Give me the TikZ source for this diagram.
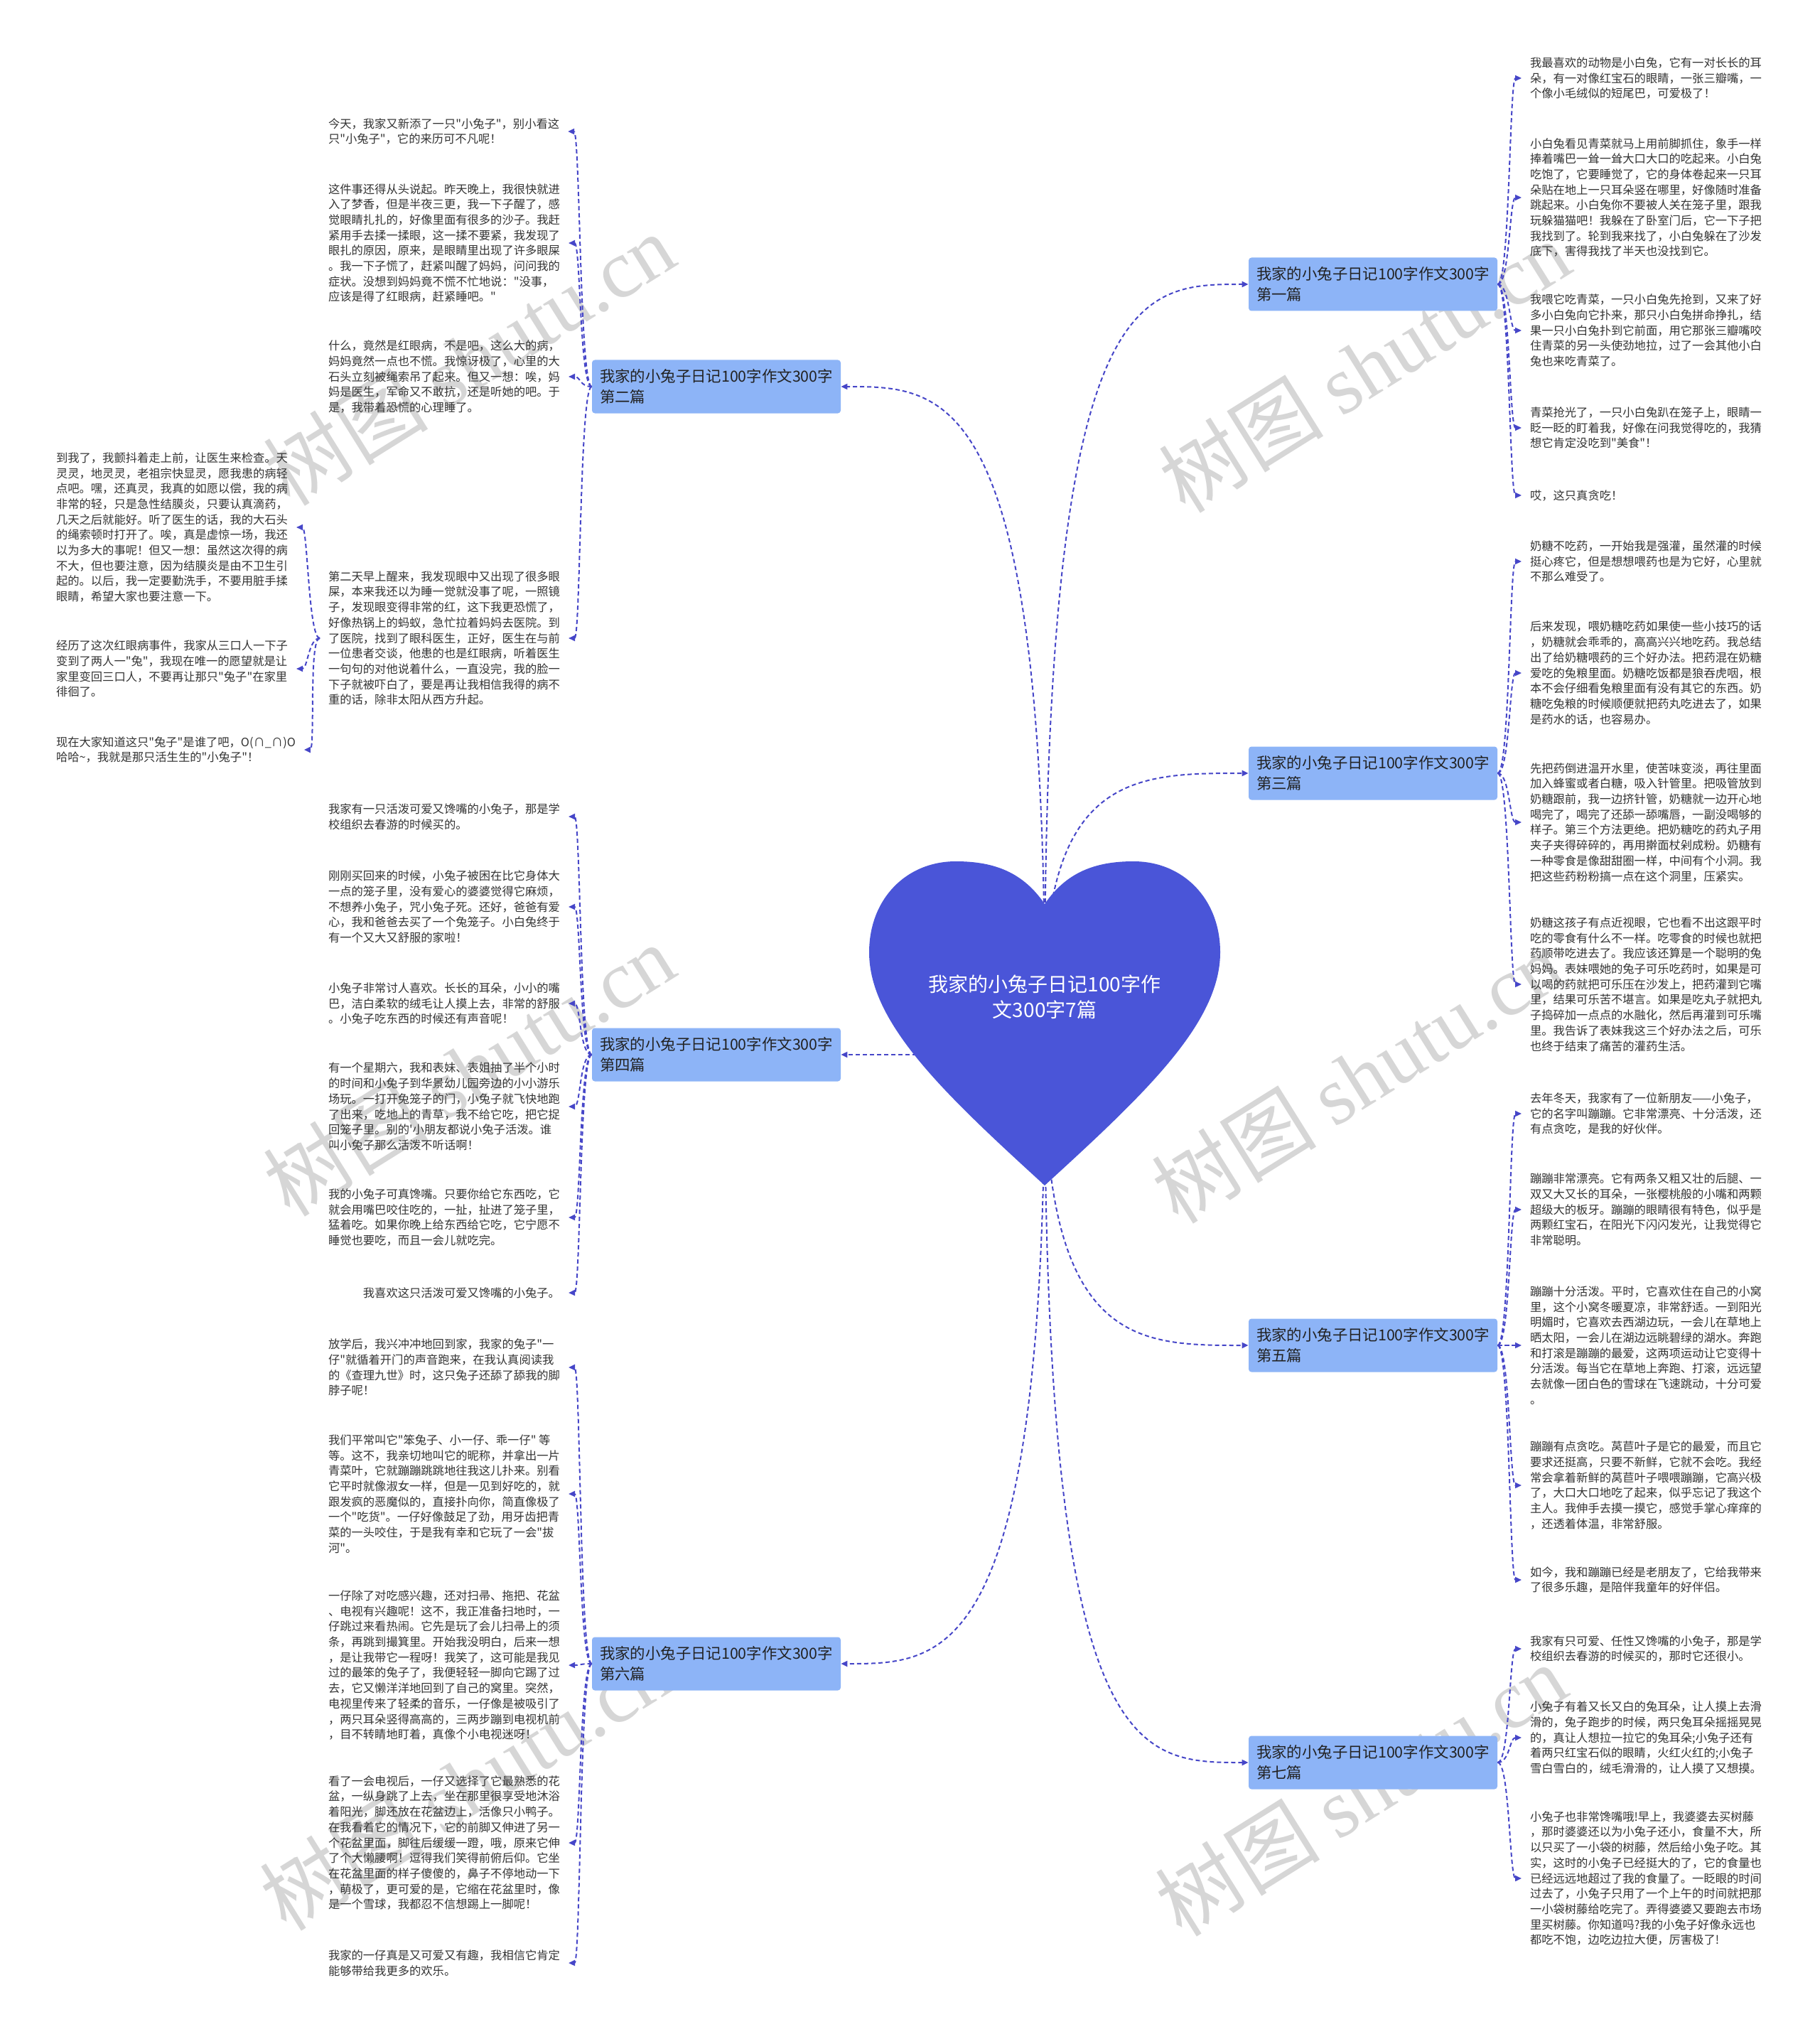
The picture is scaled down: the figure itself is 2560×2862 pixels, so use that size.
\documentclass[tikz,border=0pt]{standalone}
\usepackage{fontspec}
\newfontfamily\cjk{Noto Sans CJK SC}
\newfontfamily\wmserif{Liberation Serif}
\usetikzlibrary{arrows.meta}
\definecolor{heartc}{HTML}{4A55D8}
\definecolor{boxc}{HTML}{8DB4F7}
\definecolor{connc}{HTML}{4646C8}
\definecolor{txtc}{HTML}{333333}
\definecolor{boxtxt}{HTML}{222222}
\definecolor{wmc}{HTML}{D6D6D6}
\tikzset{
  txt/.style={inner sep=0pt, outer xsep=6pt, align=left, text=txtc, font=\cjk\fontsize{8.15pt}{10.85pt}\selectfont},
  branch/.style={rectangle, rounded corners=2pt, fill=boxc, minimum width=175pt, minimum height=37.5pt, text width=164pt, inner xsep=5.5pt, inner ysep=0pt, align=left, text=boxtxt, font=\cjk\fontsize{10.7pt}{14.6pt}\selectfont},
  conn/.style={draw=connc, line width=1pt, dash pattern=on 3pt off 2pt, -{Triangle[length=4.5pt,width=4pt]}},
  wm/.style={text=wmc, rotate=32, inner sep=0pt, font=\cjk\fontsize{58pt}{60pt}\selectfont}
}
\begin{document}
\begin{tikzpicture}[x=0.5pt,y=-0.5pt]
\useasboundingbox (0,0) rectangle (2560,2862);
\fill[white] (0,0) rectangle (2560,2862);

% watermarks
\node[wm] (w1) at (660,505) {树图 {\wmserif shutu.cn}};
\node[wm] (w2) at (1920,515) {树图 {\wmserif shutu.cn}};
\node[wm] (w3) at (660,1505) {树图 {\wmserif shutu.cn}};
\node[wm] (w4) at (1910,1515) {树图 {\wmserif shutu.cn}};
\node[wm] (w5) at (655,2510) {树图 {\wmserif shutu.cn}};
\node[wm] (w6) at (1915,2518) {树图 {\wmserif shutu.cn}};

% branch boxes
\node[branch] (b1) at (1932,400) {我家的小兔子日记100字作文300字\\第一篇};
\node[branch] (b3) at (1932,1088) {我家的小兔子日记100字作文300字\\第三篇};
\node[branch] (b5) at (1932,1893) {我家的小兔子日记100字作文300字\\第五篇};
\node[branch] (b7) at (1932,2480) {我家的小兔子日记100字作文300字\\第七篇};
\node[branch] (b2) at (1008,544) {我家的小兔子日记100字作文300字\\第二篇};
\node[branch] (b4) at (1008,1484) {我家的小兔子日记100字作文300字\\第四篇};
\node[branch] (b6) at (1008,2341) {我家的小兔子日记100字作文300字\\第六篇};

% centre connectors (hidden under heart)
\coordinate (hu) at (1470,1400);
\coordinate (hd) at (1470,1500);
\coordinate (hm) at (1470,1484);
\draw[conn] (hu) .. controls (1470,400) and (1600,400) .. (b1.west);
\draw[conn] (hu) .. controls (1470,1088) and (1600,1088) .. (b3.west);
\draw[conn] (hd) .. controls (1470,1893) and (1600,1893) .. (b5.west);
\draw[conn] (hd) .. controls (1470,2480) and (1600,2480) .. (b7.west);
\draw[conn] (hu) .. controls (1470,544) and (1330,544) .. (b2.east);
\draw[conn] (hm) -- (b4.east);
\draw[conn] (hd) .. controls (1470,2341) and (1330,2341) .. (b6.east);

% heart
\fill[heartc] (1470,1272) .. controls (1440,1228) and (1400,1212) .. (1345,1212)
  .. controls (1275,1212) and (1223,1265) .. (1223,1340)
  .. controls (1223,1440) and (1330,1540) .. (1470,1668)
  .. controls (1610,1540) and (1717,1440) .. (1717,1340)
  .. controls (1717,1265) and (1665,1212) .. (1595,1212)
  .. controls (1540,1212) and (1500,1228) .. (1470,1272) -- cycle;
\node[text=white, align=center, inner sep=0pt, font=\cjk\fontsize{14pt}{18pt}\selectfont] (hc) at (1470,1403) {我家的小兔子日记100字作\\文300字7篇};

% ---------- right column ----------
\node[txt, anchor=west] (r1a) at (2141,110) {我最喜欢的动物是小白兔，它有一对长长的耳\\朵，有一对像红宝石的眼睛，一张三瓣嘴，一\\个像小毛绒似的短尾巴，可爱极了！};
\node[txt, anchor=west] (r1b) at (2141,278) {小白兔看见青菜就马上用前脚抓住，象手一样\\捧着嘴巴一耸一耸大口大口的吃起来。小白兔\\吃饱了，它要睡觉了，它的身体卷起来一只耳\\朵贴在地上一只耳朵竖在哪里，好像随时准备\\跳起来。小白兔你不要被人关在笼子里，跟我\\玩躲猫猫吧！我躲在了卧室门后，它一下子把\\我找到了。轮到我来找了，小白兔躲在了沙发\\底下，害得我找了半天也没找到它。};
\node[txt, anchor=west] (r1c) at (2141,465) {我喂它吃青菜，一只小白兔先抢到，又来了好\\多小白兔向它扑来，那只小白兔拼命挣扎，结\\果一只小白兔扑到它前面，用它那张三瓣嘴咬\\住青菜的另一头使劲地拉，过了一会其他小白\\兔也来吃青菜了。};
\node[txt, anchor=west] (r1d) at (2141,602) {青菜抢光了，一只小白兔趴在笼子上，眼睛一\\眨一眨的盯着我，好像在问我觉得吃的，我猜\\想它肯定没吃到"美食"！};
\node[txt, anchor=west] (r1e) at (2141,697) {哎，这只真贪吃！};

\node[txt, anchor=west] (r3a) at (2141,790) {奶糖不吃药，一开始我是强灌，虽然灌的时候\\挺心疼它，但是想想喂药也是为它好，心里就\\不那么难受了。};
\node[txt, anchor=west] (r3b) at (2141,947) {后来发现，喂奶糖吃药如果使一些小技巧的话\\，奶糖就会乖乖的，高高兴兴地吃药。我总结\\出了给奶糖喂药的三个好办法。把药混在奶糖\\爱吃的兔粮里面。奶糖吃饭都是狼吞虎咽，根\\本不会仔细看兔粮里面有没有其它的东西。奶\\糖吃兔粮的时候顺便就把药丸吃进去了，如果\\是药水的话，也容易办。};
\node[txt, anchor=west] (r3c) at (2141,1157) {先把药倒进温开水里，使苦味变淡，再往里面\\加入蜂蜜或者白糖，吸入针管里。把吸管放到\\奶糖跟前，我一边挤针管，奶糖就一边开心地\\喝完了，喝完了还舔一舔嘴唇，一副没喝够的\\样子。第三个方法更绝。把奶糖吃的药丸子用\\夹子夹得碎碎的，再用擀面杖剁成粉。奶糖有\\一种零食是像甜甜圈一样，中间有个小洞。我\\把这些药粉粉搞一点在这个洞里，压紧实。};
\node[txt, anchor=west] (r3d) at (2141,1385) {奶糖这孩子有点近视眼，它也看不出这跟平时\\吃的零食有什么不一样。吃零食的时候也就把\\药顺带吃进去了。我应该还算是一个聪明的兔\\妈妈。表妹喂她的兔子可乐吃药时，如果是可\\以喝的药就把可乐压在沙发上，把药灌到它嘴\\里，结果可乐苦不堪言。如果是吃丸子就把丸\\子捣碎加一点点的水融化，然后再灌到可乐嘴\\里。我告诉了表妹我这三个好办法之后，可乐\\也终于结束了痛苦的灌药生活。};

\node[txt, anchor=west] (r5a) at (2141,1567) {去年冬天，我家有了一位新朋友——小兔子，\\它的名字叫蹦蹦。它非常漂亮、十分活泼，还\\有点贪吃，是我的好伙伴。};
\node[txt, anchor=west] (r5b) at (2141,1702) {蹦蹦非常漂亮。它有两条又粗又壮的后腿、一\\双又大又长的耳朵，一张樱桃般的小嘴和两颗\\超级大的板牙。蹦蹦的眼睛很有特色，似乎是\\两颗红宝石，在阳光下闪闪发光，让我觉得它\\非常聪明。};
\node[txt, anchor=west] (r5c) at (2141,1893) {蹦蹦十分活泼。平时，它喜欢住在自己的小窝\\里，这个小窝冬暖夏凉，非常舒适。一到阳光\\明媚时，它喜欢去西湖边玩，一会儿在草地上\\晒太阳，一会儿在湖边远眺碧绿的湖水。奔跑\\和打滚是蹦蹦的最爱，这两项运动让它变得十\\分活泼。每当它在草地上奔跑、打滚，远远望\\去就像一团白色的雪球在飞速跳动，十分可爱\\。};
\node[txt, anchor=west] (r5d) at (2141,2090) {蹦蹦有点贪吃。莴苣叶子是它的最爱，而且它\\要求还挺高，只要不新鲜，它就不会吃。我经\\常会拿着新鲜的莴苣叶子喂喂蹦蹦，它高兴极\\了，大口大口地吃了起来，似乎忘记了我这个\\主人。我伸手去摸一摸它，感觉手掌心痒痒的\\，还透着体温，非常舒服。};
\node[txt, anchor=west] (r5e) at (2141,2223) {如今，我和蹦蹦已经是老朋友了，它给我带来\\了很多乐趣，是陪伴我童年的好伴侣。};

\node[txt, anchor=west] (r7a) at (2141,2320) {我家有只可爱、任性又馋嘴的小兔子，那是学\\校组织去春游的时候买的，那时它还很小。};
\node[txt, anchor=west] (r7b) at (2141,2445) {小兔子有着又长又白的兔耳朵，让人摸上去滑\\滑的，兔子跑步的时候，两只兔耳朵摇摇晃晃\\的，真让人想拉一拉它的兔耳朵;小兔子还有\\着两只红宝石似的眼睛，火红火红的;小兔子\\雪白雪白的，绒毛滑滑的，让人摸了又想摸。};
\node[txt, anchor=west] (r7c) at (2141,2643) {小兔子也非常馋嘴哦!早上，我婆婆去买树藤\\，那时婆婆还以为小兔子还小，食量不大，所\\以只买了一小袋的树藤，然后给小兔子吃。其\\实，这时的小兔子已经挺大的了，它的食量也\\已经远远地超过了我的食量了。一眨眼的时间\\过去了，小兔子只用了一个上午的时间就把那\\一小袋树藤给吃完了。弄得婆婆又要跑去市场\\里买树藤。你知道吗?我的小兔子好像永远也\\都吃不饱，边吃边拉大便，厉害极了!};

% ---------- left column ----------
\node[txt, anchor=west] (l2a) at (450,185) {今天，我家又新添了一只"小兔子"，别小看这\\只"小兔子"，它的来历可不凡呢！};
\node[txt, anchor=west] (l2b) at (450,342) {这件事还得从头说起。昨天晚上，我很快就进\\入了梦香，但是半夜三更，我一下子醒了，感\\觉眼睛扎扎的，好像里面有很多的沙子。我赶\\紧用手去揉一揉眼，这一揉不要紧，我发现了\\眼扎的原因，原来，是眼睛里出现了许多眼屎\\。我一下子慌了，赶紧叫醒了妈妈，问问我的\\症状。没想到妈妈竟不慌不忙地说："没事，\\应该是得了红眼病，赶紧睡吧。"};
\node[txt, anchor=west] (l2c) at (450,530) {什么，竟然是红眼病，不是吧，这么大的病，\\妈妈竟然一点也不慌。我惊讶极了，心里的大\\石头立刻被绳索吊了起来。但又一想：唉，妈\\妈是医生，军命又不敢抗，还是听她的吧。于\\是，我带着恐慌的心理睡了。};
\node[txt, anchor=west] (l2d) at (450,898) {第二天早上醒来，我发现眼中又出现了很多眼\\屎，本来我还以为睡一觉就没事了呢，一照镜\\子，发现眼变得非常的红，这下我更恐慌了，\\好像热锅上的蚂蚁，急忙拉着妈妈去医院。到\\了医院，找到了眼科医生，正好，医生在与前\\一位患者交谈，他患的也是红眼病，听着医生\\一句句的对他说着什么，一直没完，我的脸一\\下子就被吓白了，要是再让我相信我得的病不\\重的话，除非太阳从西方升起。};

\node[txt, anchor=west] (f1) at (67,742) {到我了，我颤抖着走上前，让医生来检查。天\\灵灵，地灵灵，老祖宗快显灵，愿我患的病轻\\点吧。嘿，还真灵，我真的如愿以偿，我的病\\非常的轻，只是急性结膜炎，只要认真滴药，\\几天之后就能好。听了医生的话，我的大石头\\的绳索顿时打开了。唉，真是虚惊一场，我还\\以为多大的事呢！但又一想：虽然这次得的病\\不大，但也要注意，因为结膜炎是由不卫生引\\起的。以后，我一定要勤洗手，不要用脏手揉\\眼睛，希望大家也要注意一下。};
\node[txt, anchor=west] (f2) at (67,941) {经历了这次红眼病事件，我家从三口人一下子\\变到了两人一"兔"，我现在唯一的愿望就是让\\家里变回三口人，不要再让那只"兔子"在家里\\徘徊了。};
\node[txt, anchor=west] (f3) at (67,1055) {现在大家知道这只"兔子"是谁了吧，O(∩\_∩)O\\哈哈{\char`\~}，我就是那只活生生的"小兔子"！};

\node[txt, anchor=west] (l4a) at (450,1149) {我家有一只活泼可爱又馋嘴的小兔子，那是学\\校组织去春游的时候买的。};
\node[txt, anchor=west] (l4b) at (450,1276) {刚刚买回来的时候，小兔子被困在比它身体大\\一点的笼子里，没有爱心的婆婆觉得它麻烦，\\不想养小兔子，咒小兔子死。还好，爸爸有爱\\心，我和爸爸去买了一个兔笼子。小白兔终于\\有一个又大又舒服的家啦！};
\node[txt, anchor=west] (l4c) at (450,1412) {小兔子非常讨人喜欢。长长的耳朵，小小的嘴\\巴，洁白柔软的绒毛让人摸上去，非常的舒服\\。小兔子吃东西的时候还有声音呢！};
\node[txt, anchor=west] (l4d) at (450,1557) {有一个星期六，我和表妹、表姐抽了半个小时\\的时间和小兔子到华景幼儿园旁边的小小游乐\\场玩。一打开兔笼子的门，小兔子就飞快地跑\\了出来，吃地上的青草，我不给它吃，把它捉\\回笼子里。别的'小朋友都说小兔子活泼。谁\\叫小兔子那么活泼不听话啊！};
\node[txt, anchor=west] (l4e) at (450,1713) {我的小兔子可真馋嘴。只要你给它东西吃，它\\就会用嘴巴咬住吃的，一扯，扯进了笼子里，\\猛着吃。如果你晚上给东西给它吃，它宁愿不\\睡觉也要吃，而且一会儿就吃完。};
\node[txt, anchor=east] (l4f) at (800,1819) {我喜欢这只活泼可爱又馋嘴的小兔子。};

\node[txt, anchor=west] (l6a) at (450,1924) {放学后，我兴冲冲地回到家，我家的兔子"一\\仔"就循着开门的声音跑来，在我认真阅读我\\的《查理九世》时，这只兔子还舔了舔我的脚\\脖子呢！};
\node[txt, anchor=west] (l6b) at (450,2102) {我们平常叫它"笨兔子、小一仔、乖一仔" 等\\等。这不，我亲切地叫它的昵称，并拿出一片\\青菜叶，它就蹦蹦跳跳地往我这儿扑来。别看\\它平时就像淑女一样，但是一见到好吃的，就\\跟发疯的恶魔似的，直接扑向你，简直像极了\\一个"吃货"。一仔好像鼓足了劲，用牙齿把青\\菜的一头咬住，于是我有幸和它玩了一会"拔\\河"。};
\node[txt, anchor=west] (l6c) at (450,2343) {一仔除了对吃感兴趣，还对扫帚、拖把、花盆\\、电视有兴趣呢！这不，我正准备扫地时，一\\仔跳过来看热闹。它先是玩了会儿扫帚上的须\\条，再跳到撮箕里。开始我没明白，后来一想\\，是让我带它一程呀！我笑了，这可能是我见\\过的最笨的兔子了，我便轻轻一脚向它踢了过\\去，它又懒洋洋地回到了自己的窝里。突然，\\电视里传来了轻柔的音乐，一仔像是被吸引了\\，两只耳朵竖得高高的，三两步蹦到电视机前\\，目不转睛地盯着，真像个小电视迷呀！};
\node[txt, anchor=west] (l6d) at (450,2593) {看了一会电视后，一仔又选择了它最熟悉的花\\盆，一纵身跳了上去，坐在那里很享受地沐浴\\着阳光，脚还放在花盆边上，活像只小鸭子。\\在我看着它的情况下，它的前脚又伸进了另一\\个花盆里面，脚往后缓缓一蹬，哦，原来它伸\\了个大懒腰啊！逗得我们笑得前俯后仰。它坐\\在花盆里面的样子傻傻的，鼻子不停地动一下\\，萌极了，更可爱的是，它缩在花盆里时，像\\是一个雪球，我都忍不信想踢上一脚呢！};
\node[txt, anchor=west] (l6e) at (450,2762) {我家的一仔真是又可爱又有趣，我相信它肯定\\能够带给我更多的欢乐。};

% ---------- sub connectors ----------
\foreach \t in {r1a,r1b,r1c,r1d,r1e} \draw[conn] (b1.east) .. controls +(17,0) and +(-17,0) .. (\t.west);
\foreach \t in {r3a,r3b,r3c,r3d} \draw[conn] (b3.east) .. controls +(17,0) and +(-17,0) .. (\t.west);
\foreach \t in {r5a,r5b,r5c,r5d,r5e} \draw[conn] (b5.east) .. controls +(17,0) and +(-17,0) .. (\t.west);
\foreach \t in {r7a,r7b,r7c} \draw[conn] (b7.east) .. controls +(17,0) and +(-17,0) .. (\t.west);
\foreach \t in {l2a,l2b,l2c,l2d} \draw[conn] (b2.west) .. controls +(-17,0) and +(17,0) .. (\t.east);
\foreach \t in {l4a,l4b,l4c,l4d,l4e,l4f} \draw[conn] (b4.west) .. controls +(-17,0) and +(17,0) .. (\t.east);
\foreach \t in {l6a,l6b,l6c,l6d,l6e} \draw[conn] (b6.west) .. controls +(-17,0) and +(17,0) .. (\t.east);
\foreach \t in {f1,f2,f3} \draw[conn] (l2d.west) .. controls +(-16,0) and +(16,0) .. (\t.east);
\end{tikzpicture}
\end{document}
